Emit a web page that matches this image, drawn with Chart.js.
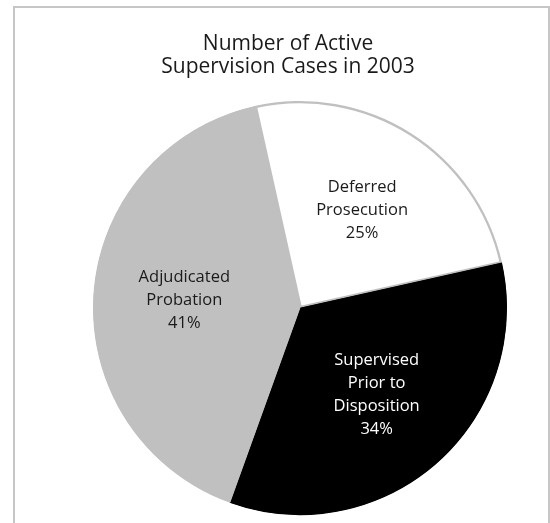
<!DOCTYPE html>
<html>
<head>
<meta charset="utf-8">
<script src="https://cdn.jsdelivr.net/npm/chart.js@4"></script>
<style>
  html, body { margin: 0; padding: 0; background: #fff; overflow: hidden; }
  #wrap { position: relative; width: 550px; height: 523px; }
  #frame { position: absolute; left: 13px; top: 6px; width: 533px; height: 540px; border: 2px solid #c6c6c6; }
  #chart { position: absolute; left: 0; top: 0; }
</style>
</head>
<body>
<div id="wrap">
  <div id="frame"></div>
  <canvas id="chart" width="550" height="523"></canvas>
</div>
<script>
const titleLines = ['Number of Active', 'Supervision Cases in 2003'];
const categories = [['Deferred', 'Prosecution'], ['Supervised', 'Prior to', 'Disposition'], ['Adjudicated', 'Probation']];
const shares = [25, 34, 41];
const fills = ['#ffffff', '#000000', '#c0c0c0'];
const edges = ['#c0c0c0', '#000000', '#c0c0c0'];
const textColors = ['#1a1a1a', '#ffffff', '#1a1a1a'];

const FONT = '"Open Sans", "DejaVu Sans", sans-serif';

// title centred on the frame, not on the pie
const titlePlugin = {
  id: 'frameTitle',
  afterDraw(chart) {
    const c = chart.ctx;
    c.save();
    c.font = '21px ' + FONT;
    c.fillStyle = '#1a1a1a';
    c.textAlign = 'center';
    c.textBaseline = 'alphabetic';
    titleLines.forEach((t, i) => c.fillText(t, 288, 50 + i * 23));
    c.restore();
  }
};

// slice labels: name lines + percent, placed along the mid angle
const sliceLabels = {
  id: 'sliceLabels',
  afterDatasetsDraw(chart) {
    const c = chart.ctx;
    const meta = chart.getDatasetMeta(0);
    c.save();
    c.font = '16.5px ' + FONT;
    c.textAlign = 'center';
    c.textBaseline = 'middle';
    meta.data.forEach((arc, i) => {
      const mid = (arc.startAngle + arc.endAngle) / 2;
      const r = arc.outerRadius * 0.56;
      const x = arc.x + Math.cos(mid) * r;
      const y = arc.y + Math.sin(mid) * r;
      const lines = [...categories[i], shares[i] + '%'];
      const lh = 23;
      const y0 = y - (lines.length - 1) * lh / 2;
      c.fillStyle = textColors[i];
      lines.forEach((t, k) => c.fillText(t, x, y0 + k * lh));
    });
    c.restore();
  }
};

new Chart(document.getElementById('chart'), {
  type: 'pie',
  data: {
    labels: categories.map(l => l.join(' ')),
    datasets: [{
      data: shares,
      backgroundColor: fills,
      borderColor: edges,
      borderWidth: 2,
      borderAlign: 'inner'
    }]
  },
  options: {
    responsive: false,
    animation: false,
    rotation: -12.6,
    layout: { padding: { left: 93, right: 43, top: 101, bottom: 8 } },
    plugins: { legend: { display: false }, tooltip: { enabled: false }, title: { display: false } }
  },
  plugins: [titlePlugin, sliceLabels]
});
</script>
</body>
</html>
